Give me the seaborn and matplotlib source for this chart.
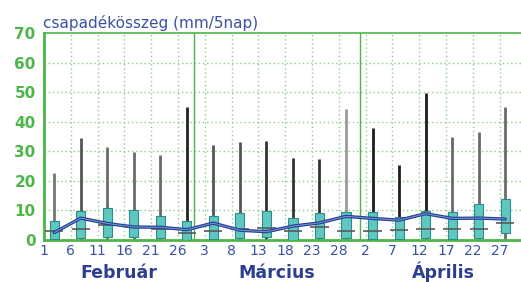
import matplotlib
matplotlib.use("Agg")
import matplotlib.pyplot as plt
import seaborn as sns
import numpy as np
import pandas as pd

# 5-napos csapadékösszegek, febr. 1 - ápr. 30
tick_labels = ["1", "6", "11", "16", "21", "26", "3", "8", "13", "18", "23", "28",
               "2", "7", "12", "17", "22", "27"]
months = ["Február", "Március", "Április"]

box_low = [0.2, 0.6, 1.1, 0.9, 0.6, 0.0, 0.3, 0.6, 0.9, 0.0, 0.6, 0.6,
           0.3, 0.3, 0.6, 0.3, 0.6, 2.3]
box_high = [6.4, 9.8, 10.7, 10.1, 8.2, 6.5, 8.1, 9.0, 9.8, 7.5, 9.0, 9.5,
            9.6, 7.9, 9.8, 9.4, 12.1, 13.8]
medians = [3.0, 3.6, 5.0, 4.5, 3.7, 2.5, 3.0, 3.7, 4.2, 2.9, 4.5, 3.1,
           3.1, 3.4, 3.7, 3.6, 3.6, 5.9]
maxima = [22.6, 34.5, 31.5, 29.8, 28.9, 45.0, 32.2, 33.0, 33.6, 27.7, 27.4, 44.3,
          37.8, 25.4, 49.7, 35.0, 36.5, 45.0]
means = [2.5, 7.4, 5.6, 4.4, 4.3, 3.5, 5.7, 3.3, 2.8, 4.7, 5.8, 8.0,
         7.3, 6.7, 8.9, 7.3, 7.4, 7.1]

green = "#4cb748"
grid_green = "#8ccf88"
blue_txt = "#3a52a4"
navy = "#2b3f8e"

# x: napok febr. 1-től (0) ápr. 30 végéig (89)
tick_pos = np.arange(0, 90, 5)
box_x = 1.9 + 4.95 * np.arange(len(box_low))
month_edges = [28, 59]
month_mid = [14, 43.5, 74.5]

whisker_cols = ["#777777", "#555555", "#6a6a6a", "#6a6a6a", "#6a6a6a", "#222222",
                "#555555", "#555555", "#333333", "#333333", "#333333", "#9a9a9a",
                "#1e1e1e", "#1e1e1e", "#1e1e1e", "#6a6a6a", "#6a6a6a", "#6a6a6a"]

df = pd.DataFrame({"x": box_x, "mean": means})

sns.set_style("white")
fig = plt.figure(figsize=(5.21, 2.82), dpi=100)
ax = fig.add_axes([44 / 521, 1 - 240 / 282, 1 - 44 / 521, 207 / 282])

# grid
for y in range(10, 70, 10):
    ax.axhline(y, color=grid_green, lw=1.0, ls=(0, (1, 2)), zorder=0)
for x in tick_pos[1:]:
    ax.axvline(x, color=grid_green, lw=1.0, ls=(0, (1, 2)), zorder=0)
for x in month_edges:
    ax.axvline(x, color=green, lw=1.0, zorder=1)

# whiskers, boxes, medians
ax.vlines(box_x, 0, maxima, colors=whisker_cols, lw=2.0, zorder=2)
ax.bar(box_x, np.array(box_high) - np.array(box_low), bottom=box_low, width=1.7,
       color="#5fc7c1", edgecolor="#2d8c87", linewidth=0.8, zorder=3)
ax.hlines(medians, box_x - 1.7, box_x + 1.7, colors="#5a5a5a", lw=1.2, zorder=4)

# átlag
sns.lineplot(data=df, x="x", y="mean", ax=ax, color=navy, lw=2.4, zorder=5)
ax.plot(box_x, means, color="#6f9be0", lw=0.7, zorder=6)

ax.set_xlim(0, 89)
ax.set_ylim(0, 70)
ax.set_xticks(tick_pos)
ax.set_xticklabels(tick_labels)
ax.set_yticks(range(0, 80, 10))
ax.set_xlabel("")
ax.set_ylabel("")

ax.tick_params(axis="x", length=0, pad=3, labelsize=10, labelcolor=blue_txt)
ax.tick_params(axis="y", length=4, width=1.2, color=green, pad=2, labelsize=11,
               labelcolor=green)
for lab in ax.get_yticklabels():
    lab.set_fontweight("bold")

for side in ["left", "bottom"]:
    ax.spines[side].set_color(green)
    ax.spines[side].set_linewidth(2)
ax.spines["top"].set_color(green)
ax.spines["top"].set_linewidth(1.2)
ax.spines["right"].set_visible(False)

for m, xm in zip(months, month_mid):
    ax.text(xm, -13.0, m, ha="center", va="baseline", fontsize=12.5,
            fontweight="bold", color=navy, clip_on=False)

fig.text(43 / 521, 1 - 28 / 282, "csapadékösszeg (mm/5nap)", fontsize=11,
         color=blue_txt, ha="left", va="baseline")

fig.savefig("out.png", dpi=100)
